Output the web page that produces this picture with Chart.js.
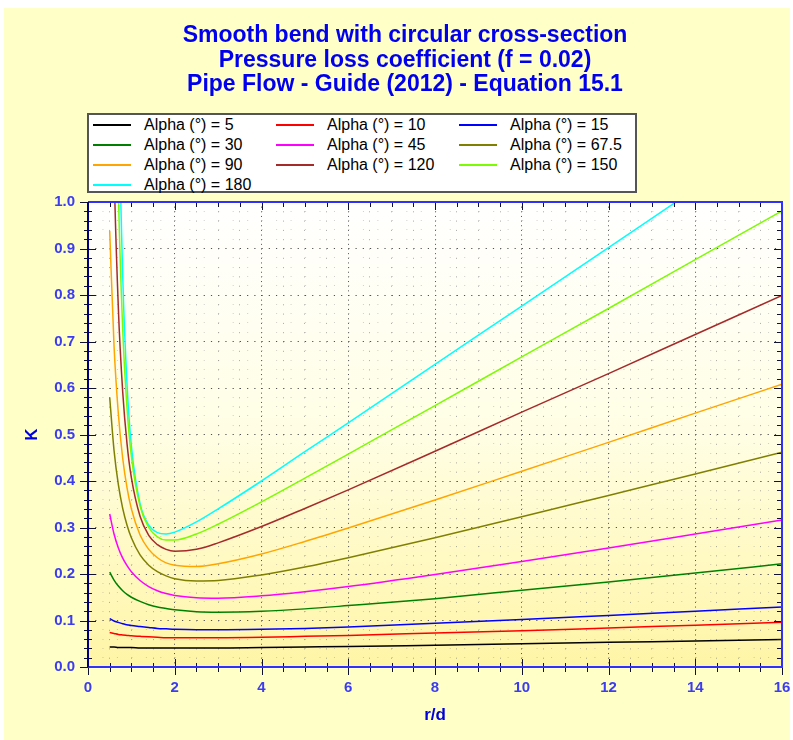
<!DOCTYPE html>
<html>
<head>
<meta charset="utf-8">
<script src="https://cdn.jsdelivr.net/npm/chart.js@4.4.1/dist/chart.umd.min.js"></script>
<style>
  body { margin: 0; background: #fff; width: 793px; height: 740px; overflow: hidden; font-family: "Liberation Sans", Arial, sans-serif; }
  #panel { position: absolute; left: 4px; top: 8px; width: 786px; height: 732px; background: #ffffc8; }
  #title { position: absolute; left: 8px; top: 14px; width: 786px; text-align: center; color: #0000ee;
           font-weight: bold; font-size: 23px; line-height: 24.5px; }
  #legend { position: absolute; left: 83px; top: 105px; width: 546px; height: 76px; background: #fff;
            border: 2px solid #555; display: grid; grid-template-columns: 183px 183px 180px; grid-auto-rows: 20px; }
  .item { display: flex; align-items: center; font-size: 16px; color: #000; white-space: nowrap; }
  .item span.ln { display: inline-block; width: 38px; height: 0; border-top: 2px solid; margin: 0 13px 0 4px; }
  canvas { position: absolute; left: 0; top: 0; }
</style>
</head>
<body>
<div id="panel">
  <canvas id="chart" width="786" height="732"></canvas>
  <div id="title">Smooth bend with circular cross-section<br>Pressure loss coefficient (f = 0.02)<br>Pipe Flow - Guide (2012) - Equation 15.1</div>
  <div id="legend"></div>
</div>
<script>
// r/d values where the curves were read
const rd = [0.5, 0.6, 0.7, 0.8, 0.9, 1, 1.2, 1.4, 1.6, 1.8, 2, 2.5, 3, 4, 5, 6, 8, 10, 12, 14, 16];

// K for each bend angle
const alpha5   = [0.043, 0.043, 0.042, 0.042, 0.042, 0.042, 0.041, 0.041, 0.041, 0.041, 0.041, 0.041, 0.041, 0.042, 0.043, 0.044, 0.047, 0.050, 0.053, 0.056, 0.059];
const alpha10  = [0.074, 0.072, 0.070, 0.069, 0.068, 0.067, 0.066, 0.065, 0.064, 0.063, 0.063, 0.063, 0.063, 0.064, 0.066, 0.068, 0.073, 0.078, 0.084, 0.090, 0.096];
const alpha15  = [0.104, 0.099, 0.096, 0.093, 0.091, 0.089, 0.087, 0.085, 0.083, 0.082, 0.081, 0.080, 0.080, 0.081, 0.083, 0.086, 0.094, 0.102, 0.111, 0.120, 0.129];
const alpha30  = [0.204, 0.187, 0.174, 0.164, 0.156, 0.150, 0.141, 0.134, 0.129, 0.126, 0.123, 0.119, 0.118, 0.120, 0.125, 0.132, 0.147, 0.165, 0.183, 0.202, 0.222];
const alpha45  = [0.329, 0.286, 0.256, 0.234, 0.218, 0.205, 0.186, 0.173, 0.164, 0.158, 0.154, 0.149, 0.148, 0.153, 0.162, 0.173, 0.199, 0.227, 0.256, 0.286, 0.316];
const alpha675 = [0.580, 0.466, 0.392, 0.341, 0.305, 0.278, 0.241, 0.219, 0.205, 0.196, 0.190, 0.185, 0.186, 0.198, 0.215, 0.235, 0.278, 0.323, 0.369, 0.415, 0.462];
const alpha90  = [0.938, 0.691, 0.544, 0.449, 0.385, 0.340, 0.284, 0.253, 0.235, 0.224, 0.219, 0.216, 0.222, 0.243, 0.270, 0.299, 0.359, 0.421, 0.483, 0.546, 0.608];
const alpha120 = [1.655, 1.079, 0.771, 0.592, 0.480, 0.407, 0.324, 0.283, 0.263, 0.253, 0.249, 0.253, 0.267, 0.302, 0.341, 0.381, 0.464, 0.548, 0.631, 0.715, 0.799];
const alpha150 = [2.762, 1.586, 1.024, 0.726, 0.556, 0.453, 0.346, 0.300, 0.280, 0.273, 0.273, 0.286, 0.307, 0.355, 0.406, 0.458, 0.562, 0.667, 0.771, 0.876, 0.981];
const alpha180 = [4.403, 2.223, 1.292, 0.843, 0.607, 0.475, 0.351, 0.305, 0.289, 0.286, 0.290, 0.312, 0.340, 0.400, 0.463, 0.525, 0.651, 0.776, 0.902, 1.028, 1.153];

const labels = ["Alpha (°) = 5", "Alpha (°) = 10", "Alpha (°) = 15", "Alpha (°) = 30", "Alpha (°) = 45",
                "Alpha (°) = 67.5", "Alpha (°) = 90", "Alpha (°) = 120", "Alpha (°) = 150", "Alpha (°) = 180"];
const colors = ["#000000", "#ff0000", "#0000ff", "#008000", "#ff00ff", "#808000", "#ffa500", "#a52a2a", "#7cfc00", "#00ffff"];
const series = [alpha5, alpha10, alpha15, alpha30, alpha45, alpha675, alpha90, alpha120, alpha150, alpha180];

const isMajorX = v => Math.abs(v / 2 - Math.round(v / 2)) < 1e-6;
const isMajorY = v => Math.abs(v * 10 - Math.round(v * 10)) < 1e-6;

// background gradient, tick marks and frame of the plot area
const plotDecor = {
  id: "plotDecor",
  beforeDraw(chart) {
    const { ctx, chartArea: a } = chart;
    const g = ctx.createLinearGradient(0, a.top, 0, a.bottom);
    g.addColorStop(0, "#ffffff");
    g.addColorStop(0.5, "#fffee4");
    g.addColorStop(1, "#fff5a6");
    ctx.save();
    ctx.fillStyle = g;
    ctx.fillRect(a.left, a.top, a.right - a.left, a.bottom - a.top);
    ctx.restore();
  },
  afterDraw(chart) {
    const { ctx, chartArea: a, scales: { x, y } } = chart;
    ctx.save();
    ctx.lineWidth = 1;
    ctx.strokeStyle = "#101030";
    ctx.beginPath();
    y.ticks.forEach(t => {
      const py = Math.round(y.getPixelForValue(t.value)) + 0.5;
      const m = isMajorY(t.value);
      ctx.moveTo(a.left - (m ? 8 : 4), py); ctx.lineTo(a.left + (m ? 8 : 4), py);
      ctx.moveTo(a.right - (m ? 8 : 5), py); ctx.lineTo(a.right, py);
    });
    x.ticks.forEach(t => {
      const px = Math.round(x.getPixelForValue(t.value)) + 0.5;
      const m = isMajorX(t.value);
      ctx.moveTo(px, a.bottom - (m ? 8 : 4)); ctx.lineTo(px, a.bottom + (m ? 8 : 5));
      ctx.moveTo(px, a.top); ctx.lineTo(px, a.top + (m ? 8 : 5));
    });
    ctx.stroke();
    ctx.lineWidth = 2;
    ctx.strokeStyle = "#3030ff";
    ctx.beginPath();
    ctx.moveTo(a.left, a.top); ctx.lineTo(a.right, a.top); ctx.lineTo(a.right, a.bottom); ctx.lineTo(a.left, a.bottom);
    ctx.stroke();
    ctx.strokeStyle = "#000080";
    ctx.beginPath();
    ctx.moveTo(a.left, a.top); ctx.lineTo(a.left, a.bottom);
    ctx.stroke();
    ctx.restore();
  }
};

const tickFont = { family: "Liberation Sans", size: 15, weight: "bold" };
const titleFont = { family: "Liberation Sans", size: 17, weight: "bold" };

new Chart(document.getElementById("chart"), {
  type: "line",
  data: {
    datasets: series.map((s, i) => ({
      label: labels[i],
      data: s.map((k, j) => ({ x: rd[j], y: k })),
      borderColor: colors[i],
      borderWidth: 1.5,
      pointRadius: 0,
      fill: false,
      cubicInterpolationMode: "monotone",
    })),
  },
  options: {
    responsive: false,
    animation: false,
    layout: { padding: { top: 194, right: 8, left: 0, bottom: 0 } },
    plugins: { legend: { display: false }, tooltip: { enabled: false } },
    scales: {
      x: {
        type: "linear",
        min: 0,
        max: 16,
        afterFit: s => { s.height = 73; s.paddingLeft = 0; s.paddingRight = 0; },
        ticks: {
          stepSize: 0.5,
          autoSkip: false,
          maxRotation: 0,
          padding: 12,
          color: "#3c3cf0",
          font: tickFont,
          callback: v => (isMajorX(v) ? String(Math.round(v)) : ""),
        },
        grid: {
          drawTicks: false,
          color: c => (c.tick && isMajorX(c.tick.value) ? "#505050" : "rgba(110,110,110,0.6)"),
        },
        border: { display: false, dash: c => (c.tick && isMajorX(c.tick.value) ? [1, 3.65] : [1, 8.3]) },
        title: { display: true, text: "r/d", color: "#0000dd", font: titleFont, padding: { top: 0, bottom: 14 } },
      },
      y: {
        min: 0,
        max: 1,
        afterFit: s => { s.width = 84; },
        ticks: {
          stepSize: 0.02,
          autoSkip: false,
          padding: 13,
          color: "#3c3cf0",
          font: tickFont,
          callback: v => (isMajorY(v) ? v.toFixed(1) : ""),
        },
        grid: {
          drawTicks: false,
          color: c => (c.tick && isMajorY(c.tick.value) ? "#505050" : "rgba(120,120,120,0.35)"),
        },
        border: { display: false, dash: c => (c.tick && isMajorY(c.tick.value) ? [1.2, 6.03] : [1, 13.47]) },
        title: { display: true, text: "K", color: "#0000dd", font: titleFont, padding: { top: 18, bottom: 0 } },
      },
    },
  },
  plugins: [plotDecor],
});

// legend box, three columns
const legend = document.getElementById("legend");
labels.forEach((l, i) => {
  const d = document.createElement("div");
  d.className = "item";
  d.innerHTML = '<span class="ln" style="border-color:' + colors[i] + '"></span>' + l;
  legend.appendChild(d);
});
</script>
</body>
</html>
